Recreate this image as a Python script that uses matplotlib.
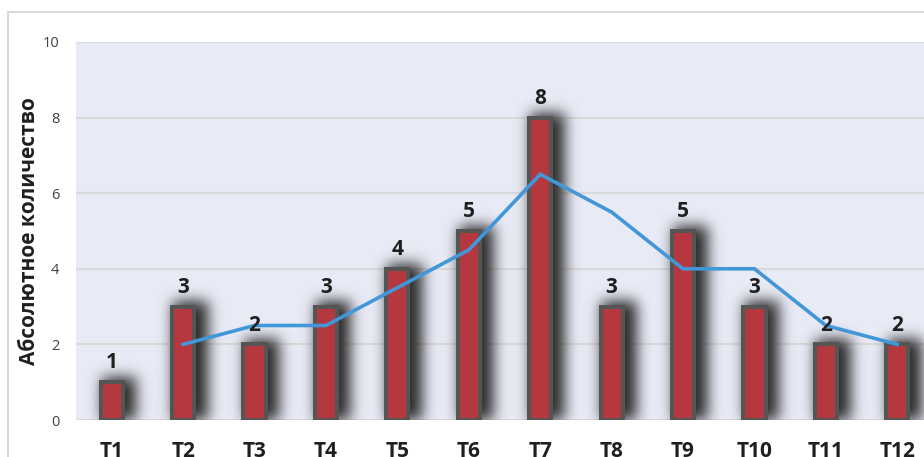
import numpy as np
import matplotlib
matplotlib.use("Agg")
import matplotlib.pyplot as plt
from matplotlib.patches import Rectangle

# периоды и абсолютное количество
periods = ["T1", "T2", "T3", "T4", "T5", "T6", "T7", "T8", "T9", "T10", "T11", "T12"]
counts = [1, 3, 2, 3, 4, 5, 8, 3, 5, 3, 2, 2]

# скользящее среднее (2 периода), начиная с T2
trend_x = ["T2", "T3", "T4", "T5", "T6", "T7", "T8", "T9", "T10", "T11", "T12"]
trend_y = [2, 2.5, 2.5, 3.5, 4.5, 6.5, 5.5, 4, 4, 2.5, 2]

plt.rcParams['font.family'] = ['Open Sans', 'DejaVu Sans']

fig = plt.figure(figsize=(9.24, 4.57), dpi=100)
ax = fig.add_axes([76 / 924, 37 / 457, 857 / 924, 378 / 457])
ax.set_facecolor("#E8EAF5")

x = np.arange(len(periods))
bar_w = 0.31

# размытая тень под столбцами
W, H = 857, 378
xs = np.linspace(-0.5, 11.5, W)
ys = np.linspace(0, 10, H)
px_x = 12 / W
px_y = 10 / H
mask = np.zeros((H, W))
half = bar_w / 2 + 6 * px_x
for xi, v in zip(x, counts):
    cx = xi + 7 * px_x
    inx = (xs >= cx - half) & (xs <= cx + half)
    iny = ys <= v + 5 * px_y
    mask[np.ix_(iny, inx)] = 1.0

sigma = 7.0
k = np.arange(-25, 26)
kern = np.exp(-k ** 2 / (2 * sigma ** 2))
kern /= kern.sum()
blur = np.apply_along_axis(lambda r: np.convolve(r, kern, mode="same"), 1, mask)
blur = np.apply_along_axis(lambda c: np.convolve(c, kern, mode="same"), 0, blur)

shadow = np.zeros((H, W, 4))
shadow[..., :3] = 0.2
shadow[..., 3] = np.clip(blur * 1.05, 0, 1)
ax.imshow(shadow, extent=(-0.5, 11.5, 0, 10), origin="lower",
          aspect="auto", zorder=1, interpolation="bilinear")

ax.bar(x, counts, width=bar_w, color="#B5383F", edgecolor="#555555",
       linewidth=2.9, zorder=2)

ax.plot([periods.index(p) for p in trend_x], trend_y, color="#4197D7",
        linewidth=2.6, zorder=3, solid_joinstyle="miter")

for xi, v in zip(x, counts):
    ax.annotate(str(v), (xi, v), xytext=(0, 10), textcoords="offset points",
                ha="center", va="baseline", fontsize=15, fontweight="bold",
                color="#1F1F1F", zorder=4)

ax.set_xlim(-0.5, 11.5)
ax.set_ylim(0, 10)
ax.set_yticks([0, 2, 4, 6, 8, 10])
ax.set_xticks(x)
ax.set_xticklabels(periods, fontsize=15, fontweight="bold", color="#1F1F1F")
ax.tick_params(axis="y", length=0, pad=12, labelsize=10.5, labelcolor="#404040")
ax.tick_params(axis="x", length=0, pad=15)
ax.grid(axis="y", color="#D9D9D9", linewidth=1.5, zorder=0)
ax.set_axisbelow(True)
for s in ax.spines.values():
    s.set_visible(False)

ax.set_ylabel("Абсолютное количество", fontsize=15, fontweight="bold",
              color="#1F1F1F")
ax.yaxis.set_label_coords(-0.042, 0.5)

# рамка области диаграммы
fig.patches.append(Rectangle((8 / 924, -0.1), 1.2, (457 - 12) / 457 + 0.1,
                             transform=fig.transFigure, fill=False,
                             edgecolor="#D9D9D9", linewidth=1.5, zorder=0))

fig.savefig("out.png", dpi=100)
